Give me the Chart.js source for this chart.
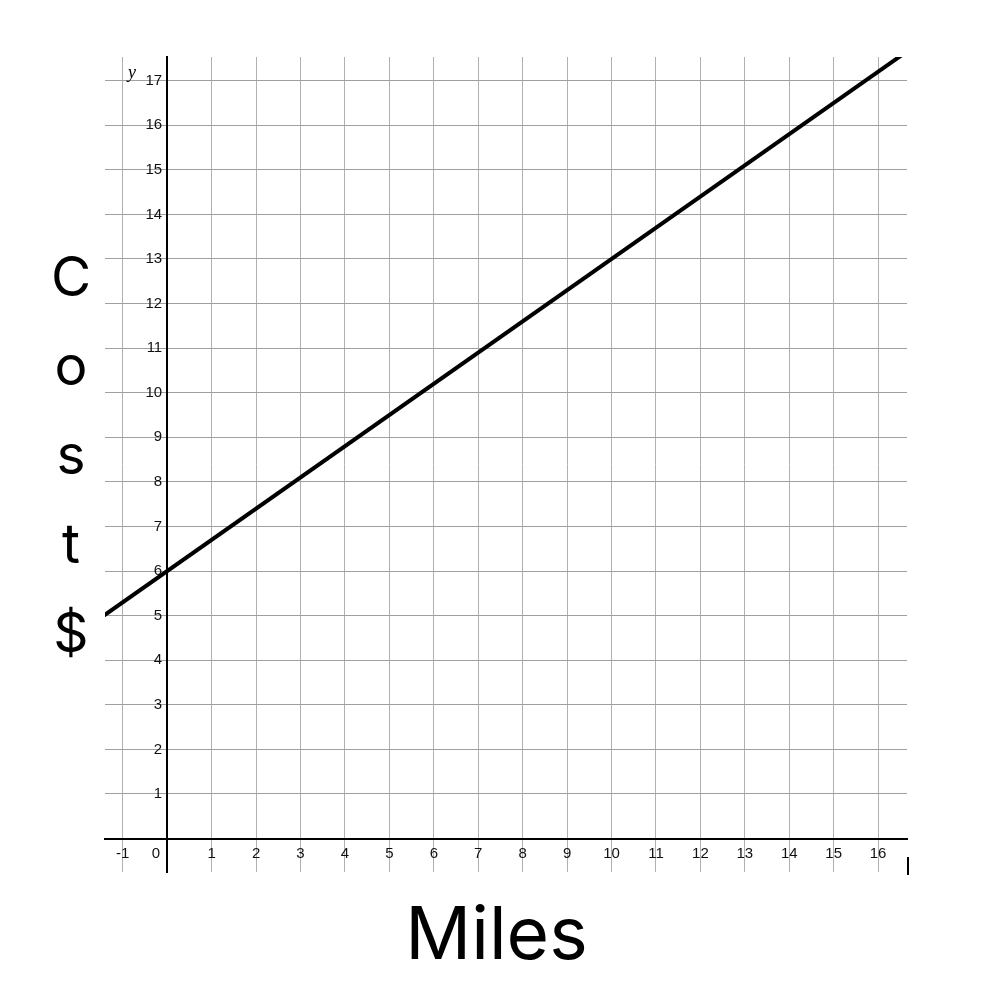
<!DOCTYPE html>
<html>
<head>
<meta charset="utf-8">
<title>Cost vs Miles</title>
<script src="https://cdn.jsdelivr.net/npm/chart.js@4.4.1/dist/chart.umd.min.js"></script>
<style>
  body { margin: 0; background: #fff; }
  #wrap { position: relative; width: 993px; height: 1006px; }
  #chart { position: absolute; left: 0; top: 0; }
  .ylabel {
    position: absolute; left: 46px; top: 232px; width: 50px;
    font-family: Inter, "Liberation Sans", sans-serif; font-size: 55px;
    line-height: 89px; text-align: center; color: #000;
  }
  .xlabel {
    position: absolute; left: 0; width: 993px; top: 888px;
    font-family: Inter, "Liberation Sans", sans-serif; font-size: 73px;
    text-align: center; color: #000;
  }
  .yname {
    position: absolute; left: 128px; top: 62px;
    font-family: "Liberation Serif", serif; font-style: italic; font-size: 18px;
  }
  .stray { position: absolute; left: 907px; top: 857px; width: 2px; height: 18px; background: #000; }
</style>
</head>
<body>
<div id="wrap">
  <canvas id="chart" width="993" height="1006"></canvas>
  <div class="ylabel">C<br>o<br>s<br>t<br>$</div>
  <div class="xlabel">Miles</div>
  <span class="yname">y</span>
  <div class="stray"></div>
</div>
<script>
// line y = 0.7x + 6, two points past the edges (clipped to the plot)
const miles = [-2, 18];
const cost = [4.6, 18.6];

const xMin = -1.4, xMax = 16.65;
const yMin = -0.75, yMax = 17.53;

const points = miles.map((m, i) => ({ x: m, y: cost[i] }));

new Chart(document.getElementById('chart'), {
  type: 'line',
  data: {
    datasets: [{
      data: points,
      borderColor: '#000',
      borderWidth: 4,
      pointRadius: 0,
      fill: false,
      tension: 0
    }]
  },
  options: {
    responsive: false,
    animation: false,
    devicePixelRatio: 1,
    layout: { padding: { left: 105, top: 57, right: 86, bottom: 134 } },
    plugins: { legend: { display: false }, tooltip: { enabled: false } },
    scales: {
      x: {
        type: 'linear',
        position: { y: 0 },
        min: xMin,
        max: xMax,
        grid: { color: '#b0b0b0', lineWidth: 1, drawTicks: false },
        border: { color: '#000', width: 2 },
        ticks: {
          stepSize: 1,
          includeBounds: false,
          padding: 6,
          color: '#111',
          font: { family: '"Liberation Sans", Arial, sans-serif', size: 15 },
          maxRotation: 0,
          autoSkip: false,
          callback: v => v === 0 ? '0\u2002\u2002\u2002' : String(v)
        }
      },
      y: {
        type: 'linear',
        position: { x: 0 },
        min: yMin,
        max: yMax,
        grid: { color: '#a0a0a0', lineWidth: 1, drawTicks: false },
        border: { color: '#000', width: 2 },
        ticks: {
          stepSize: 1,
          includeBounds: false,
          color: '#111',
          font: { family: '"Liberation Sans", Arial, sans-serif', size: 15 },
          autoSkip: false,
          // labels sit right against the axis, so pad with a small space
          callback: v => v > 0 ? v + '\u2004' : ''
        }
      }
    }
  }
});
</script>
</body>
</html>
